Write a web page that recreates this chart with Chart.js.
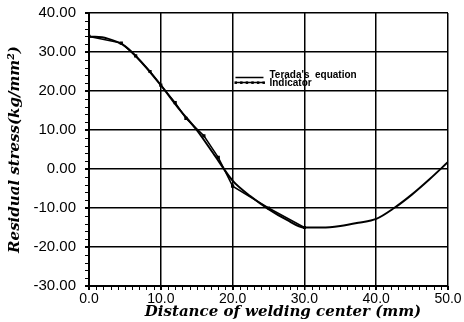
<!DOCTYPE html>
<html>
<head>
<meta charset="utf-8">
<script src="https://cdn.jsdelivr.net/npm/chart.js@4.4.0/dist/chart.umd.min.js"></script>
<style>
  html, body { margin: 0; padding: 0; background: #fff; }
  #wrap { width: 464px; height: 322px; }
</style>
</head>
<body>
<div id="wrap"><canvas id="myChart" width="464" height="322"></canvas></div>
<script>
// Terada's equation (solid curve)
const teradaX = [0, 2.5, 5, 7.5, 10, 12.5, 15, 17.5, 20, 22.5, 25, 27.5, 30, 32.5, 35, 37.5, 40, 42.5, 45, 47.5, 50];
const teradaY = [34, 33.5, 31.5, 27, 21.5, 15.5, 10, 3.5, -3, -7, -10.3, -13, -15, -15, -14.6, -13.8, -12.8, -10, -6.5, -2.5, 1.8];

// indicator (marked line)
const indicatorX = [0, 4.5, 6.5, 8.5, 10, 12, 13.5, 16, 18, 20, 25, 30];
const indicatorY = [34, 32.3, 29, 25, 21.5, 17, 13, 8.5, 3, -4.4, -10, -15];

const yTicks = [40, 30, 20, 10, 0, -10, -20, -30];
const xTicks = [0, 10, 20, 30, 40, 50];

const xTitle = 'Distance of welding center (mm)';
const yTitle = 'Residual stress(kg/mm²)';

const toPoints = (xs, ys) => xs.map((x, i) => ({ x: x, y: ys[i] }));

// minor tick marks, legend inside the plot, x title
const extras = {
    id: 'extras',
    afterDraw(chart) {
        const ctx = chart.ctx;
        const a = chart.chartArea;
        const xs = chart.scales.x, ys = chart.scales.y;
        ctx.save();
        ctx.strokeStyle = '#000';
        ctx.lineWidth = 1;
        ctx.beginPath();
        for (let v = -30; v <= 40; v += 2) {
            const py = Math.round(ys.getPixelForValue(v)) + 0.5;
            ctx.moveTo(a.left - 4, py);
            ctx.lineTo(a.left, py);
        }
        for (let v = 0; v <= 50; v += 1) {
            const px = Math.round(xs.getPixelForValue(v)) + 0.5;
            ctx.moveTo(px, a.bottom);
            ctx.lineTo(px, a.bottom + 4);
        }
        ctx.stroke();

        // legend
        const lx = xs.getPixelForValue(20.4), ly = ys.getPixelForValue(22.2);
        ctx.lineWidth = 1.5;
        ctx.beginPath();
        ctx.moveTo(lx, ly - 5);
        ctx.lineTo(lx + 28, ly - 5);
        ctx.moveTo(lx, ly);
        ctx.lineTo(lx + 28, ly);
        ctx.stroke();
        ctx.fillStyle = '#000';
        for (let i = 0; i <= 5; i++) {
            ctx.fillRect(lx + i * 5.6 - 1, ly - 1, 2.5, 2.5);
        }
        ctx.font = 'bold 10px "Liberation Sans"';
        ctx.textBaseline = 'middle';
        ctx.fillText("Terada's  equation", lx + 34, ly - 7);
        ctx.fillText('Indicator', lx + 34, ly + 0.5);

        // x axis title
        ctx.font = 'italic bold 15px "DejaVu Serif"';
        ctx.textAlign = 'center';
        ctx.fillText(xTitle, 283, 312);
        ctx.restore();
    }
};

const data = {
    datasets: [{
        label: "Terada's equation",
        data: toPoints(teradaX, teradaY),
        borderColor: '#000',
        borderWidth: 2,
        pointRadius: 0,
        showLine: true,
        tension: 0.4,
        cubicInterpolationMode: 'monotone'
    }, {
        label: 'Indicator',
        data: toPoints(indicatorX, indicatorY),
        borderColor: '#000',
        backgroundColor: '#000',
        borderWidth: 1.5,
        pointRadius: 1.2,
        pointStyle: 'rect',
        showLine: true,
        tension: 0
    }]
};

const config = {
    type: 'scatter',
    data: data,
    options: {
        responsive: false,
        animation: false,
        layout: { padding: { top: 13, right: 16, left: 0, bottom: 0 } },
        plugins: {
            legend: { display: false },
            tooltip: { enabled: false }
        },
        scales: {
            x: {
                type: 'linear',
                min: 0,
                max: 50,
                afterBuildTicks: (s) => { s.ticks = xTicks.map(v => ({ value: v })); },
                afterFit: (s) => { s.height = 36; s.paddingLeft = 0; s.paddingRight = 0; },
                grid: { color: '#000', lineWidth: 1.5, tickLength: 4 },
                border: { color: '#000', width: 2 },
                ticks: {
                    color: '#000',
                    padding: 1,
                    maxRotation: 0,
                    font: { family: '"Liberation Sans"', size: 14 },
                    callback: (v) => v.toFixed(1)
                }
            },
            y: {
                min: -30,
                max: 40,
                afterBuildTicks: (s) => { s.ticks = yTicks.map(v => ({ value: v })); },
                afterFit: (s) => { s.width = 89; s.paddingTop = 0; s.paddingBottom = 0; },
                grid: { color: '#000', lineWidth: 1.5, tickLength: 4 },
                border: { color: '#000', width: 2 },
                ticks: {
                    color: '#000',
                    padding: 9,
                    font: { family: '"Liberation Sans"', size: 15 },
                    callback: (v) => v.toFixed(2)
                },
                title: {
                    display: true,
                    text: yTitle,
                    color: '#000',
                    padding: { top: 6, bottom: 0 },
                    font: { family: '"DejaVu Serif"', size: 15, weight: 'bold', style: 'italic' }
                }
            }
        }
    },
    plugins: [extras]
};

var ctx = document.getElementById('myChart').getContext('2d');
var myChart = new Chart(ctx, config);
</script>
</body>
</html>
